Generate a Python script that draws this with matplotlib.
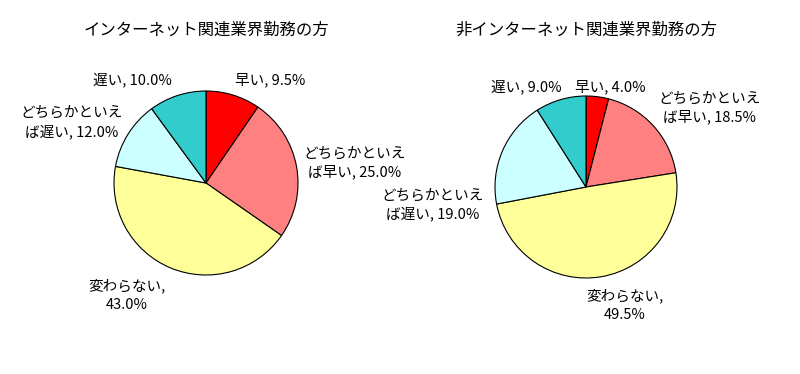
import numpy as np
import matplotlib
matplotlib.use('Agg')
import matplotlib.pyplot as plt

plt.rcParams['font.family'] = ['Noto Sans CJK JP', 'DejaVu Sans']

# data
categories = ['早い', 'どちらかといえ\nば早い', '変わらない', 'どちらかといえ\nば遅い', '遅い']
inet_values = [9.5, 25.0, 43.0, 12.0, 10.0]
non_inet_values = [4.0, 18.5, 49.5, 19.0, 9.0]
titles = ['インターネット関連業界勤務の方', '非インターネット関連業界勤務の方']

COLORS = ['#FF0000', '#FF8080', '#FFFF99', '#CCFFFF', '#33CCCC']

# label centres in pie-radius units (layout only)
inet_label_pos = [(0.70, 1.12), (1.62, 0.22), (-0.86, -1.22), (-1.46, 0.66), (-0.80, 1.12)]
non_inet_label_pos = [(0.27, 1.10), (1.36, 0.87), (0.43, -1.30), (-1.68, -0.20), (-0.66, 1.10)]


def label_text(cat, val):
    if cat == '変わらない':
        return cat + ',\n' + '%.1f%%' % val
    return cat + ', ' + '%.1f%%' % val


def draw_pie(fig, cx, cy, r, values, label_pos, title):
    W, H = 800, 374
    ax = fig.add_axes([(cx - r) / W, (H - cy - r) / H, 2 * r / W, 2 * r / H])
    ax.pie(values, colors=COLORS, startangle=90, counterclock=False,
           wedgeprops={'edgecolor': 'black', 'linewidth': 0.8})
    ax.set_xlim(-1, 1)
    ax.set_ylim(-1, 1)
    ax.set_aspect('equal')
    ax.axis('off')
    for cat, val, (lx, ly) in zip(categories, values, label_pos):
        ax.text(lx, ly, label_text(cat, val), ha='center', va='center',
                fontsize=10.5, linespacing=1.35, clip_on=False)
    fig.text(cx / W, 1 - 30 / H, title, ha='center', va='center', fontsize=11.8)


fig = plt.figure(figsize=(8, 3.74), dpi=100)
draw_pie(fig, 206, 183, 92, inet_values, inet_label_pos, titles[0])
draw_pie(fig, 586, 187, 91, non_inet_values, non_inet_label_pos, titles[1])

plt.savefig('out.png', dpi=100)
